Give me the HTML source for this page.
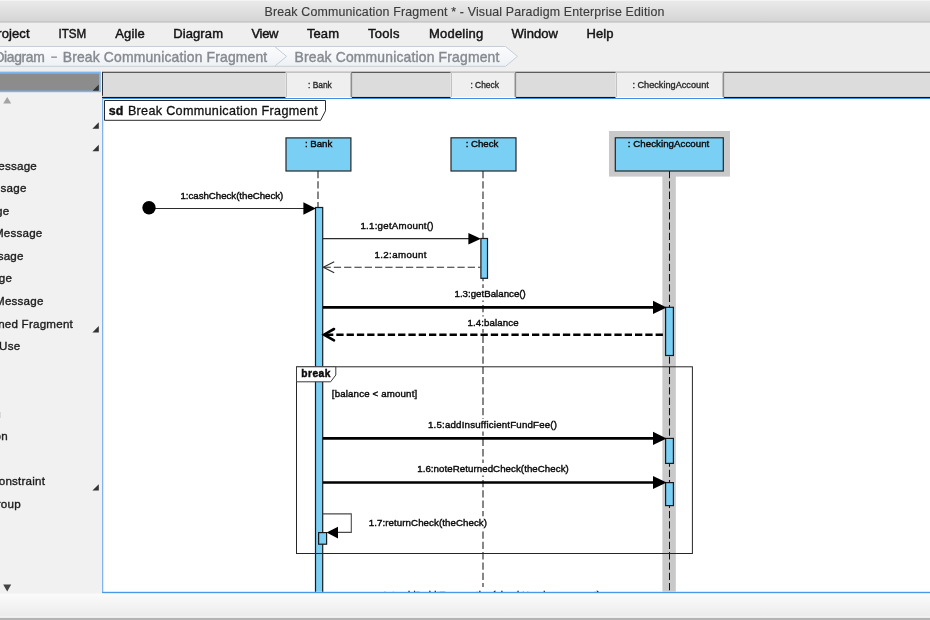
<!DOCTYPE html>
<html>
<head>
<meta charset="utf-8">
<title>Break Communication Fragment</title>
<style>
html,body{margin:0;padding:0;}
body{width:930px;height:620px;overflow:hidden;position:relative;background:#efefef;font-family:"Liberation Sans",sans-serif;}
#root{position:absolute;left:0;top:0;width:930px;height:620px;overflow:hidden;will-change:transform;}
#root svg{position:absolute;left:0;top:0;}
text{font-family:"Liberation Sans",sans-serif;}
</style>
</head>
<body>
<div id="root">
<svg width="930" height="620" viewBox="0 0 930 620">
<defs>
<linearGradient id="gTitle" x1="0" y1="0" x2="0" y2="1"><stop offset="0" stop-color="#ebebeb"/><stop offset="1" stop-color="#d4d4d4"/></linearGradient>
<linearGradient id="gCrumb" x1="0" y1="0" x2="0" y2="1"><stop offset="0" stop-color="#fbfcfd"/><stop offset="1" stop-color="#eef1f5"/></linearGradient>
<linearGradient id="gBottom" x1="0" y1="0" x2="0" y2="1"><stop offset="0" stop-color="#fbfbfb"/><stop offset="1" stop-color="#ebebeb"/></linearGradient>
<clipPath id="cv"><rect x="103.5" y="98.6" width="826.5" height="493.2"/></clipPath>
</defs>

<!-- window background -->
<rect x="0" y="0" width="930" height="620" fill="#efefef"/>

<!-- title bar -->
<rect x="0" y="0" width="930" height="22" fill="url(#gTitle)"/>
<rect x="0" y="0" width="930" height="1" fill="#f4f4f4"/>
<rect x="0" y="21.5" width="930" height="1" fill="#b9b9b9"/>
<text x="264.5" y="15.6" font-size="12.4" fill="#3c3c3c" stroke="#3c3c3c" stroke-width="0.15" textLength="400" lengthAdjust="spacing">Break Communication Fragment * - Visual Paradigm Enterprise Edition</text>

<!-- menu bar -->
<g font-size="13" fill="#141414" stroke="#141414" stroke-width="0.45">
<text x="-11.6" y="37.7" textLength="41.2" lengthAdjust="spacing">Project</text>
<text x="58.5" y="37.7" textLength="27.7" lengthAdjust="spacingAndGlyphs">ITSM</text>
<text x="115.3" y="37.7" textLength="29.4" lengthAdjust="spacing">Agile</text>
<text x="173.2" y="37.7" textLength="49.8" lengthAdjust="spacing">Diagram</text>
<text x="251.5" y="37.7" textLength="27" lengthAdjust="spacing">View</text>
<text x="307" y="37.7" textLength="32" lengthAdjust="spacing">Team</text>
<text x="368" y="37.7" textLength="31.4" lengthAdjust="spacing">Tools</text>
<text x="429" y="37.7" textLength="54.2" lengthAdjust="spacing">Modeling</text>
<text x="511.6" y="37.7" textLength="46.2" lengthAdjust="spacing">Window</text>
<text x="586.5" y="37.7" textLength="27" lengthAdjust="spacing">Help</text>
</g>

<!-- breadcrumb -->
<path d="M-3 46.5 H505.5 L517.5 56.4 L505.5 66.3 H-3 Z" fill="url(#gCrumb)" stroke="#c6ced8" stroke-width="1"/>
<path d="M275 46.8 L286.6 56.4 L275 66" fill="none" stroke="#c6ced8" stroke-width="1"/>
<g font-size="13.9" fill="#868a90" stroke="#868a90" stroke-width="0.4">
<text x="-5.6" y="61.8" textLength="50.4" lengthAdjust="spacing">Diagram</text>
<rect x="51.2" y="56.5" width="5.7" height="1.3" stroke="none"/>
<text x="62.7" y="61.8" textLength="204.5" lengthAdjust="spacing">Break Communication Fragment</text>
<text x="294.5" y="61.8" textLength="204.8" lengthAdjust="spacing">Break Communication Fragment</text>
</g>

<!-- left palette panel -->
<rect x="0" y="72" width="102" height="522" fill="#f1f1f1"/>
<rect x="-2" y="71.6" width="102.8" height="20.6" fill="#7cb6f2"/>
<rect x="-2" y="73.7" width="101" height="16.9" fill="#8c8c8c"/>
<path d="M98.8 84.6 V90.7 H92.6 Z" fill="#333"/>
<path d="M3.2 103.6 L7.2 97 L11.2 103.6 Z" fill="#a3a3a3"/>
<path d="M98.8 122.3 V128.7 H92.4 Z" fill="#333"/>
<path d="M98.8 144.8 V151.2 H92.4 Z" fill="#333"/>
<path d="M98.8 326 V332.4 H92.4 Z" fill="#333"/>
<path d="M98.8 484.2 V490.6 H92.4 Z" fill="#333"/>
<path d="M3.2 584.6 H11.2 L7.2 591.4 Z" fill="#444"/>
<g font-size="11.6" letter-spacing="0.22" fill="#1c1c1c" stroke="#1c1c1c" stroke-width="0.35" text-anchor="end">
<text x="37" y="169.7">Message</text>
<text x="26.6" y="192.2">Message</text>
<text x="9.4" y="214.8">Message</text>
<text x="42.5" y="237.3">Message</text>
<text x="23.7" y="259.9">Message</text>
<text x="12.2" y="282.4">Message</text>
<text x="43.6" y="305">Message</text>
<text x="73" y="327.5">Combined Fragment</text>
<text x="20.4" y="350.1">Interaction Use</text>
<rect x="0" y="412" width="0.7" height="6" fill="#cfcfcf" stroke="none"/>
<text x="7.8" y="440.3">Continuation</text>
<text x="45.2" y="485.4">Duration Constraint</text>
<text x="20.8" y="507.9">Group</text>
</g>

<!-- canvas -->
<rect x="102" y="98" width="828" height="495" fill="#ffffff"/>

<!-- lifeline header strip -->
<rect x="102" y="72" width="828" height="25" fill="#dcdcdc"/>
<rect x="102" y="71.7" width="828" height="1.25" fill="#555"/>
<rect x="102" y="72" width="1" height="26" fill="#2e2e2e"/>
<rect x="102" y="95.8" width="828" height="1.2" fill="#e6e6e6"/>
<rect x="102" y="96.9" width="828" height="1.1" fill="#141414"/>
<rect x="102" y="98" width="828" height="1" fill="#3f8fe3"/>
<g>
<rect x="285.6" y="71.6" width="66" height="26" fill="#efefef"/>
<rect x="450.6" y="71.6" width="65" height="26" fill="#efefef"/>
<rect x="615.6" y="71.6" width="108" height="26" fill="#efefef"/>
<g fill="none" stroke="#c2c2c2" stroke-width="1">
<path d="M286.5 97 V72.5 H350.5 V97"/>
<path d="M451.5 97 V72.5 H514.5 V97"/>
<path d="M616.5 97 V72.5 H722.5 V97"/>
</g>
<rect x="351.2" y="72" width="0.9" height="25" fill="#777"/>
<rect x="515.2" y="72" width="0.9" height="25" fill="#777"/>
<rect x="723.2" y="72" width="0.9" height="25" fill="#777"/>
<rect x="285.6" y="96.9" width="66" height="1.1" fill="#fff"/>
<rect x="450.6" y="96.9" width="65" height="1.1" fill="#fff"/>
<rect x="615.6" y="96.9" width="108" height="1.1" fill="#fff"/>
</g>
<g font-size="9.6" fill="#2a2a2a" stroke="#2a2a2a" stroke-width="0.36">
<text x="308" y="88" textLength="23.8" lengthAdjust="spacingAndGlyphs">: Bank</text>
<text x="470.4" y="88" textLength="28.6" lengthAdjust="spacingAndGlyphs">: Check</text>
<text x="632.4" y="88" textLength="76.4" lengthAdjust="spacingAndGlyphs">: CheckingAccount</text>
</g>

<!-- canvas focus border -->
<rect x="102" y="98" width="1.25" height="495" fill="#7fb4ee"/>
<rect x="102.1" y="591.8" width="828" height="1.4" fill="#4a98ea"/>

<!-- bottom bar -->
<rect x="0" y="593.6" width="930" height="23.4" fill="url(#gBottom)"/>
<rect x="0" y="616.6" width="930" height="1.2" fill="#fdfdfd"/>
<rect x="0" y="617.8" width="930" height="2.2" fill="#b4b4b4"/>

<!-- DIAGRAM -->
<g id="diagram" clip-path="url(#cv)">
<!-- sd frame label -->
<path d="M104.5 100.5 H325.5 V110.8 L320.6 120.3 H104.5 Z" fill="#fff" stroke="#2a2a2a" stroke-width="1"/>
<text x="108.8" y="114.8" font-size="12.4" font-weight="bold" fill="#111" stroke="#111" stroke-width="0.4" textLength="14.6" lengthAdjust="spacing">sd</text>
<text x="127.9" y="114.8" font-size="12.6" fill="#111" stroke="#111" stroke-width="0.3" textLength="189.8" lengthAdjust="spacing">Break Communication Fragment</text>

<!-- selection highlight for CheckingAccount -->
<rect x="609" y="131" width="121" height="45.6" fill="#c9c9c9"/>
<rect x="662.4" y="176" width="13.4" height="416" fill="#c9c9c9"/>

<!-- lifeline dashed lines -->
<g stroke="#2e2e2e" stroke-width="1.15" stroke-dasharray="7.3 3" fill="none">
<line x1="318" y1="171" x2="318" y2="208"/>
<line x1="483" y1="171" x2="483" y2="587"/>
<line x1="669.5" y1="171" x2="669.5" y2="592" stroke="#111" stroke-width="1.05"/>
</g>

<!-- lifeline heads -->
<g fill="#7acff5" stroke="#262626" stroke-width="1.2">
<rect x="286" y="137.9" width="64.9" height="33.1"/>
<rect x="451" y="137.8" width="65" height="33.2"/>
<rect x="615.3" y="137.8" width="108" height="33.2"/>
</g>
<g font-size="9.7" fill="#0a0a0a" stroke="#0a0a0a" stroke-width="0.4">
<text x="304.9" y="147" textLength="27.4" lengthAdjust="spacing">: Bank</text>
<text x="465.8" y="147" textLength="32.5" lengthAdjust="spacing">: Check</text>
<text x="627.8" y="147" textLength="81.5" lengthAdjust="spacing">: CheckingAccount</text>
</g>

<!-- break fragment frame -->

<!-- activations -->
<g fill="#7acff5" stroke="#1a1a1a" stroke-width="1.2">
<rect x="315.5" y="207.5" width="7.2" height="390"/>
<rect x="480.9" y="238.5" width="6.6" height="39.8"/>
<rect x="665.6" y="307.3" width="7.8" height="48.2"/>
<rect x="665.6" y="438.4" width="7.8" height="25"/>
<rect x="665.6" y="482.6" width="7.8" height="23"/>
<rect x="318.6" y="532.6" width="8" height="11.6"/>
</g>

<!-- break frame (over activations) -->
<rect x="296.5" y="366.8" width="395.9" height="186.7" fill="none" stroke="#262626" stroke-width="1"/>
<!-- break label -->
<path d="M296.5 366.8 H335.8 V375 L330.6 381.8 H296.5 Z" fill="#fff" stroke="#3a3a3a" stroke-width="1"/>
<text x="301.3" y="376.5" font-size="10.2" font-weight="bold" fill="#0a0a0a" stroke="#0a0a0a" stroke-width="0.45" textLength="29" lengthAdjust="spacing">break</text>

<!-- label backgrounds -->
<g fill="#fff">
<rect x="453" y="288" width="74" height="12.5"/>
<rect x="466" y="316.5" width="54" height="12.5"/>
<rect x="427" y="419" width="131" height="12.5"/>
<rect x="416" y="463" width="154" height="12.5"/>
<rect x="367.5" y="516.3" width="121" height="12.5"/>
</g>

<!-- messages -->
<g stroke="#2b2b2b" stroke-width="1.1" fill="none">
<line x1="149" y1="208.5" x2="305" y2="208.5"/>
<line x1="323" y1="238.6" x2="470" y2="238.6"/>
<line x1="323.5" y1="267.3" x2="480.5" y2="267.3" stroke-dasharray="7.3 3"/>
<path d="M334.2 261.8 L323.3 267.3 L334.2 272.8"/>
<path d="M323 513.9 H351.3 V532.4 H337" stroke="#4a4a4a"/>
</g>
<g stroke="#000" stroke-width="2.6" fill="none">
<line x1="323" y1="307.4" x2="655" y2="307.4"/>
<line x1="325" y1="334.7" x2="665" y2="334.7" stroke-dasharray="7.3 3" stroke-dashoffset="-1"/>
<path d="M334 329 L324 334.7 L334 340.4" stroke-linecap="round"/>
<line x1="323" y1="438.4" x2="655" y2="438.4"/>
<line x1="323" y1="482.5" x2="655" y2="482.5"/>
</g>
<g fill="#000">
<circle cx="149" cy="207.8" r="6.7"/>
<path d="M303.4 202.2 L315.8 208.5 L303.4 214.8 Z"/>
<path d="M468.4 232.9 L480.9 238.7 L468.4 244.5 Z"/>
<path d="M653 300.8 L666.6 307.4 L653 314 Z"/>
<path d="M653 431.8 L666.6 438.4 L653 445 Z"/>
<path d="M653 475.9 L666.6 482.5 L653 489.1 Z"/>
<path d="M338 526.8 L326.6 532.6 L338 538.5 Z"/>
</g>

<!-- message labels -->
<g font-size="9.7" fill="#0a0a0a" stroke="#0a0a0a" stroke-width="0.4">
<text x="180.5" y="198.9" textLength="102.8" lengthAdjust="spacing">1:cashCheck(theCheck)</text>
<text x="360.4" y="228.9" textLength="73.1" lengthAdjust="spacing">1.1:getAmount()</text>
<text x="374.4" y="257.7" textLength="52.1" lengthAdjust="spacing">1.2:amount</text>
<text x="454.5" y="297.3" textLength="71.3" lengthAdjust="spacing">1.3:getBalance()</text>
<text x="467.4" y="325.6" textLength="51.2" lengthAdjust="spacing">1.4:balance</text>
<text x="331.8" y="396.6" textLength="85.4" lengthAdjust="spacing">[balance &lt; amount]</text>
<text x="428" y="428.4" textLength="129" lengthAdjust="spacing">1.5:addInsufficientFundFee()</text>
<text x="417.2" y="472.4" textLength="151.6" lengthAdjust="spacing">1.6:noteReturnedCheck(theCheck)</text>
<text x="368.8" y="525.6" textLength="118.2" lengthAdjust="spacing">1.7:returnCheck(theCheck)</text>
<text x="382" y="598" textLength="218" lengthAdjust="spacing">1.8:addDebitTransaction(checkNumber, amount)</text>
</g>
</g>
</svg>
</div>
</body>
</html>
